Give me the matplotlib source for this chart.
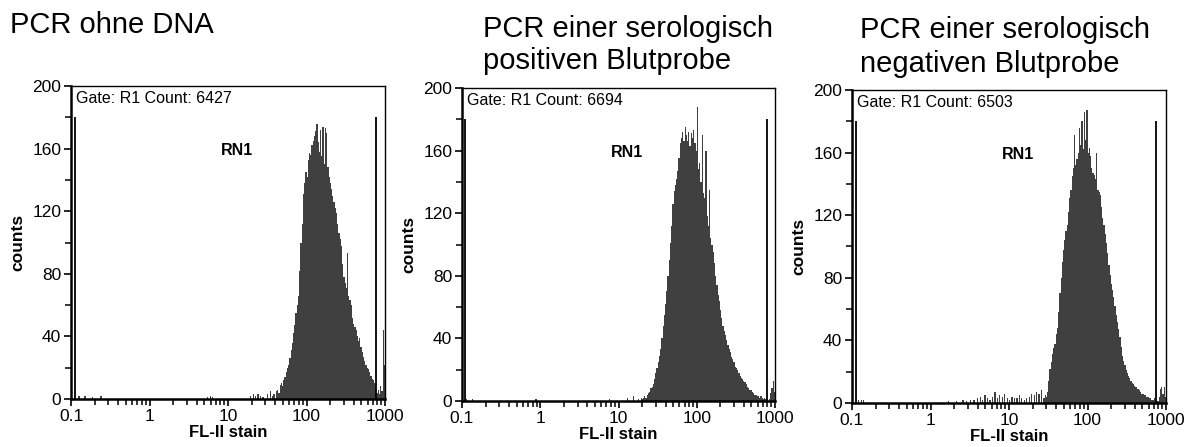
import matplotlib.pyplot as plt
import numpy as np

plt.rcParams['font.family'] = ['Liberation Sans', 'DejaVu Sans']

# 256 log channels from 0.1 to 1000 (FACS style)
n_channels = 256
x_min, x_max = 0.1, 1000

titles = [["PCR ohne DNA"],
          ["PCR einer serologisch", "positiven Blutprobe"],
          ["PCR einer serologisch", "negativen Blutprobe"]]
gate_counts = [6427, 6694, 6503]

# panel 1: PCR ohne DNA
p1_start = 164
p1_counts = [2, 3, 0, 5, 6, 4, 9, 10, 8, 12, 14, 17, 20, 22, 26, 31, 36, 42, 47, 55,
             60, 66, 82, 100, 112, 131, 138, 145, 142, 153, 157, 156, 162, 165, 168, 171,
             176, 164, 158, 172, 155, 174, 150, 173, 170, 148, 142, 138, 134, 130, 126,
             122, 119, 112, 106, 102, 98, 86, 78, 74, 71, 93, 66, 63, 60, 52, 48, 46, 44,
             40, 37, 39, 33, 30, 27, 24, 22, 20, 19, 17, 15, 13, 12, 10, 8, 4, 6, 3, 8, 5,
             44, 22]
p1_bg_ch = [6, 11, 17, 24, 111, 113, 115, 146, 148, 150, 152, 154, 156, 160, 162]
p1_bg_counts = [2, 2, 1, 2, 1, 2, 1, 2, 3, 2, 3, 2, 1, 3, 5]

# panel 2: serologisch positiv
p2_start = 144
p2_counts = [1, 0, 2, 1, 2, 3, 2, 4, 5, 6, 8, 9, 11, 14, 18, 21, 25, 29, 33, 40,
             48, 55, 62, 70, 80, 90, 101, 112, 126, 134, 138, 142, 147, 155, 165, 168,
             172, 166, 175, 170, 166, 172, 163, 171, 168, 173, 165, 160, 188, 148, 152,
             140, 170, 133, 130, 160, 118, 112, 135, 104, 100, 95, 88, 80, 74, 68, 64,
             58, 53, 48, 45, 42, 39, 36, 33, 31, 28, 27, 25, 22, 21, 20, 18, 16, 15, 14,
             13, 12, 11, 9, 8, 7, 7, 6, 5, 4, 4, 3, 3, 2, 3, 2, 1, 2, 1, 1, 0, 1, 5, 8,
             13, 6]
p2_bg_ch = [3, 8, 60, 120, 135, 140]
p2_bg_counts = [1, 1, 1, 1, 2, 3]

# panel 3: serologisch negativ
p3_start = 156
p3_counts = [3, 5, 4, 7, 14, 22, 26, 31, 35, 38, 44, 48, 58, 70, 80, 90, 98, 104, 110,
             114, 122, 131, 136, 145, 150, 171, 152, 156, 160, 176, 165, 180, 162, 186,
             168, 187, 160, 163, 158, 150, 147, 146, 143, 160, 136, 135, 133, 125, 118,
             114, 108, 102, 96, 88, 82, 76, 72, 68, 62, 56, 52, 47, 42, 36, 30, 27, 24,
             21, 19, 17, 16, 14, 13, 12, 11, 10, 9, 9, 8, 7, 6, 6, 5, 5, 4, 4, 3, 3, 2,
             2, 3, 2, 1, 1, 4, 9, 10, 6, 10, 4]
p3_bg_ch = [5, 7, 9, 78, 85, 90, 93, 96, 99, 102, 104, 106, 108, 110, 112, 114, 116,
            118, 120, 122, 124, 126, 128, 130, 132, 134, 136, 138, 140, 142, 144, 146,
            148, 150, 152, 154]
p3_bg_counts = [2, 2, 2, 1, 1, 2, 1, 2, 2, 3, 4, 2, 5, 3, 2, 4, 7, 3, 5, 4, 6, 3, 2,
                4, 3, 3, 5, 3, 2, 3, 4, 6, 5, 7, 6, 8]

left_gate = [0.112, 0.109, 0.111]
right_gate = [760, 790, 747]
gate_top = 180

x_ticks = [0.1, 1, 10, 100, 1000]
x_ticklabels = ["0.1", "1", "10", "100", "1000"]
y_ticks = [0, 40, 80, 120, 160, 200]

panels = [(p1_start, p1_counts, p1_bg_ch, p1_bg_counts),
          (p2_start, p2_counts, p2_bg_ch, p2_bg_counts),
          (p3_start, p3_counts, p3_bg_ch, p3_bg_counts)]

# axes boxes in pixels (left, top, right, bottom)
W, H = 1193, 447
boxes = [(71, 86, 385, 399), (462, 88, 775, 401), (852, 90, 1166, 403)]
title_pos = [(10, [33]), (483, [37, 69]), (860, [38, 72])]

fig = plt.figure(figsize=(W / 100, H / 100), dpi=100)

edges = 10 ** np.linspace(np.log10(x_min), np.log10(x_max), n_channels + 1)

for i, (start, counts, bg_ch, bg_counts) in enumerate(panels):
    l, t, r, b = boxes[i]
    ax = fig.add_axes([l / W, 1 - b / H, (r - l) / W, (b - t) / H])

    hist = np.zeros(n_channels)
    hist[start:start + len(counts)] = counts
    for c, v in zip(bg_ch, bg_counts):
        hist[c] = v
    ax.stairs(hist, edges, fill=True, color="#404040", lw=0)

    ax.vlines([left_gate[i], right_gate[i]], 0, gate_top, color="black", lw=1.3)

    ax.set_xscale("log")
    ax.set_xlim(x_min, x_max)
    ax.set_ylim(0, 200)
    ax.set_xticks(x_ticks)
    ax.set_xticklabels(x_ticklabels)
    ax.set_yticks(y_ticks)
    ax.set_yticks(range(20, 200, 40), minor=True)
    ax.tick_params(axis="both", which="major", direction="out", length=5, width=1.2,
                   labelsize=12.5, pad=2)
    ax.tick_params(axis="both", which="minor", direction="out", length=4, width=1.1)

    for side in ["left", "bottom"]:
        ax.spines[side].set_linewidth(1.8)
    for side in ["top", "right"]:
        ax.spines[side].set_linewidth(1.0)

    ax.set_xlabel("FL-II stain", fontsize=12, fontweight="bold")
    ax.set_ylabel("counts", fontsize=12.5, fontweight="bold")
    ax.xaxis.set_label_coords(0.5, -0.083)
    ax.yaxis.set_label_coords(-0.146, 0.5)

    ax.text(0.015, 0.985, "Gate: R1 Count: %d" % gate_counts[i], transform=ax.transAxes,
            ha="left", va="top", fontsize=11.5)
    ax.text(8, 159, "RN1", ha="left", va="center", fontsize=11.5, fontweight="bold")

    tx, baselines = title_pos[i]
    for line, y in zip(titles[i], baselines):
        fig.text(tx / W, 1 - y / H, line, ha="left", va="baseline", fontsize=21)

fig.savefig("out.png", dpi=100)
